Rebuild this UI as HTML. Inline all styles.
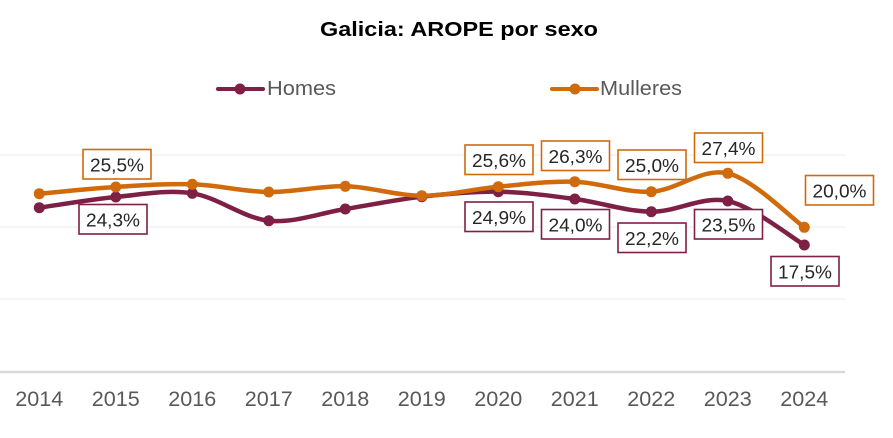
<!DOCTYPE html>
<html><head><meta charset="utf-8"><style>
html,body{margin:0;padding:0;background:#fff;}
svg{display:block;}
text{font-family:"Liberation Sans",sans-serif;}
</style></head><body>
<svg width="893" height="438" viewBox="0 0 893 438" xmlns="http://www.w3.org/2000/svg">
<rect width="893" height="438" fill="#fff"/>
<text x="459" y="36" text-anchor="middle" font-size="20" font-weight="bold" fill="#000" textLength="278" lengthAdjust="spacingAndGlyphs">Galicia: AROPE por sexo</text>
<!-- legend -->
<line x1="218" y1="89" x2="263" y2="89" stroke="#7E2045" stroke-width="4" stroke-linecap="round"/>
<circle cx="240" cy="89" r="5.5" fill="#7E2045"/>
<text x="267" y="95" font-size="20" fill="#595959" textLength="69" lengthAdjust="spacingAndGlyphs">Homes</text>
<line x1="552" y1="89" x2="597" y2="89" stroke="#D06A0B" stroke-width="4" stroke-linecap="round"/>
<circle cx="575" cy="89" r="5.5" fill="#D06A0B"/>
<text x="600" y="95" font-size="20" fill="#595959" textLength="82" lengthAdjust="spacingAndGlyphs">Mulleres</text>
<!-- grid -->
<line x1="0" y1="155" x2="845" y2="155" stroke="#ebebeb" stroke-width="1"/>
<line x1="0" y1="227" x2="845" y2="227" stroke="#ebebeb" stroke-width="1"/>
<line x1="0" y1="299" x2="845" y2="299" stroke="#ebebeb" stroke-width="1"/>
<line x1="0" y1="372" x2="845" y2="372" stroke="#d9d9d9" stroke-width="2.5"/>
<!-- x labels -->
<g font-size="21" fill="#595959" text-anchor="middle">
<text x="39.3" y="406" textLength="48" lengthAdjust="spacingAndGlyphs">2014</text>
<text x="115.8" y="406" textLength="48" lengthAdjust="spacingAndGlyphs">2015</text>
<text x="192.3" y="406" textLength="48" lengthAdjust="spacingAndGlyphs">2016</text>
<text x="268.8" y="406" textLength="48" lengthAdjust="spacingAndGlyphs">2017</text>
<text x="345.3" y="406" textLength="48" lengthAdjust="spacingAndGlyphs">2018</text>
<text x="421.8" y="406" textLength="48" lengthAdjust="spacingAndGlyphs">2019</text>
<text x="498.3" y="406" textLength="48" lengthAdjust="spacingAndGlyphs">2020</text>
<text x="574.8" y="406" textLength="48" lengthAdjust="spacingAndGlyphs">2021</text>
<text x="651.3" y="406" textLength="48" lengthAdjust="spacingAndGlyphs">2022</text>
<text x="727.8" y="406" textLength="48" lengthAdjust="spacingAndGlyphs">2023</text>
<text x="804.3" y="406" textLength="48" lengthAdjust="spacingAndGlyphs">2024</text>
</g>
<!-- Homes -->
<path d="M39.3,207.7 C52.05,205.92 90.3,199.4 115.8,197 C141.3,194.6 166.8,189.35 192.3,193.3 C217.8,197.25 243.3,218.08 268.8,220.7 C294.3,223.32 319.8,213 345.3,209 C370.8,205 396.3,199.58 421.8,196.7 C447.3,193.82 472.8,191.32 498.3,191.7 C523.8,192.08 549.3,195.67 574.8,199 C600.3,202.33 625.8,211.37 651.3,211.7 C676.8,212.03 702.3,195.45 727.8,201 C753.3,206.55 791.55,237.67 804.3,245" fill="none" stroke="#7E2045" stroke-width="4.5" stroke-linecap="round"/>
<g fill="#7E2045">
<circle cx="39.3" cy="207.7" r="5.5"/><circle cx="115.8" cy="197" r="5.5"/><circle cx="192.3" cy="193.3" r="5.5"/><circle cx="268.8" cy="220.7" r="5.5"/><circle cx="345.3" cy="209" r="5.5"/><circle cx="421.8" cy="196.7" r="5.5"/><circle cx="498.3" cy="191.7" r="5.5"/><circle cx="574.8" cy="199" r="5.5"/><circle cx="651.3" cy="211.7" r="5.5"/><circle cx="727.8" cy="201" r="5.5"/><circle cx="804.3" cy="245" r="5.5"/>
</g>
<!-- Mulleres -->
<path d="M39.3,193.7 C52.05,192.58 90.3,188.57 115.8,187 C141.3,185.43 166.8,183.47 192.3,184.3 C217.8,185.13 243.3,191.67 268.8,192 C294.3,192.33 319.8,185.68 345.3,186.3 C370.8,186.92 396.3,195.63 421.8,195.7 C447.3,195.77 472.8,189.03 498.3,186.7 C523.8,184.37 549.3,180.87 574.8,181.7 C600.3,182.53 625.8,193.1 651.3,191.7 C676.8,190.3 702.3,167.37 727.8,173.3 C753.3,179.23 791.55,218.3 804.3,227.3" fill="none" stroke="#D06A0B" stroke-width="4.5" stroke-linecap="round"/>
<g fill="#D06A0B">
<circle cx="39.3" cy="193.7" r="5.5"/><circle cx="115.8" cy="187" r="5.5"/><circle cx="192.3" cy="184.3" r="5.5"/><circle cx="268.8" cy="192" r="5.5"/><circle cx="345.3" cy="186.3" r="5.5"/><circle cx="421.8" cy="195.7" r="5.5"/><circle cx="498.3" cy="186.7" r="5.5"/><circle cx="574.8" cy="181.7" r="5.5"/><circle cx="651.3" cy="191.7" r="5.5"/><circle cx="727.8" cy="173.3" r="5.5"/><circle cx="804.3" cy="227.3" r="5.5"/>
</g>
<!-- labels -->
<g fill="#fff" stroke="#D06A0B" stroke-width="1.6">
<rect x="83" y="149.5" width="68" height="29.5"/>
<rect x="465" y="145" width="68" height="29.5"/>
<rect x="541.5" y="141" width="68" height="29.5"/>
<rect x="618" y="150" width="68" height="29.5"/>
<rect x="694.5" y="133" width="68" height="29.5"/>
<rect x="805.5" y="175.5" width="68" height="29.5"/>
</g>
<g fill="#fff" stroke="#7E2045" stroke-width="1.6">
<rect x="79" y="204.5" width="68" height="29.5"/>
<rect x="465" y="202" width="68" height="29.5"/>
<rect x="541.5" y="209.5" width="68" height="29.5"/>
<rect x="618" y="223" width="68" height="29.5"/>
<rect x="694.5" y="209.5" width="68" height="29.5"/>
<rect x="771" y="256.5" width="68" height="29.5"/>
</g>
<g font-size="18" fill="#262626" text-anchor="middle">
<text x="117" y="171.5" textLength="54" lengthAdjust="spacingAndGlyphs">25,5%</text>
<text x="499" y="167" textLength="54" lengthAdjust="spacingAndGlyphs">25,6%</text>
<text x="575.5" y="163" textLength="54" lengthAdjust="spacingAndGlyphs">26,3%</text>
<text x="652" y="172" textLength="54" lengthAdjust="spacingAndGlyphs">25,0%</text>
<text x="728.5" y="155" textLength="54" lengthAdjust="spacingAndGlyphs">27,4%</text>
<text x="839.5" y="197.5" textLength="54" lengthAdjust="spacingAndGlyphs">20,0%</text>
<text x="113" y="226.5" textLength="54" lengthAdjust="spacingAndGlyphs">24,3%</text>
<text x="499" y="224" textLength="54" lengthAdjust="spacingAndGlyphs">24,9%</text>
<text x="575.5" y="231.5" textLength="54" lengthAdjust="spacingAndGlyphs">24,0%</text>
<text x="652" y="245" textLength="54" lengthAdjust="spacingAndGlyphs">22,2%</text>
<text x="728.5" y="231.5" textLength="54" lengthAdjust="spacingAndGlyphs">23,5%</text>
<text x="805" y="278.5" textLength="54" lengthAdjust="spacingAndGlyphs">17,5%</text>
</g>
</svg>
</body></html>
